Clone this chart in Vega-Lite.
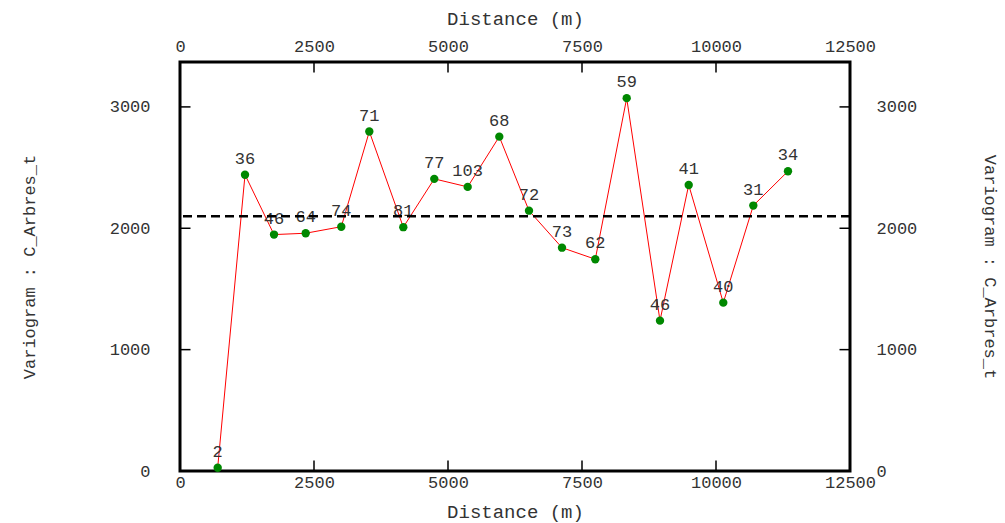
{
  "$schema": "https://vega.github.io/schema/vega-lite/v6.json",
  "autosize": {"type": "none"},
  "padding": {"left": 180, "top": 62, "right": 155, "bottom": 52},
  "width": 670,
  "height": 409,
  "background": "white",
  "config": {
    "view": {"stroke": "black", "strokeWidth": 3},
    "axis": {
      "domain": false,
      "grid": false,
      "ticks": false,
      "zindex": 2,
      "format": "d",
      "labelFont": "Liberation Mono",
      "labelFontSize": 17,
      "labelColor": "#333333",
      "titleFont": "Liberation Mono",
      "titleFontWeight": "normal",
      "titleColor": "#333333",
      "labelOverlap": false,
      "labelFlush": false
    }
  },
  "datasets": {
    "pts": [
      {"d": 703, "g": 27, "n": "2"},
      {"d": 1213, "g": 2441, "n": "36"},
      {"d": 1754, "g": 1948, "n": "46"},
      {"d": 2345, "g": 1959, "n": "64"},
      {"d": 3009, "g": 2013, "n": "74"},
      {"d": 3532, "g": 2797, "n": "71"},
      {"d": 4166, "g": 2009, "n": "81"},
      {"d": 4744, "g": 2407, "n": "77"},
      {"d": 5367, "g": 2341, "n": "103"},
      {"d": 5957, "g": 2755, "n": "68"},
      {"d": 6511, "g": 2145, "n": "72"},
      {"d": 7127, "g": 1840, "n": "73"},
      {"d": 7748, "g": 1745, "n": "62"},
      {"d": 8334, "g": 3072, "n": "59"},
      {"d": 8955, "g": 1239, "n": "46"},
      {"d": 9491, "g": 2357, "n": "41"},
      {"d": 10136, "g": 1387, "n": "40"},
      {"d": 10696, "g": 2187, "n": "31"},
      {"d": 11343, "g": 2470, "n": "34"}
    ],
    "sill": [{"s": 2100}],
    "xticks": [{"v": 2500}, {"v": 5000}, {"v": 7500}, {"v": 10000}],
    "yticks": [{"v": 1000}, {"v": 2000}, {"v": 3000}]
  },
  "resolve": {"axis": {"x": "independent", "y": "independent"}},
  "layer": [
    {
      "data": {"name": "pts"},
      "mark": {"type": "line", "color": "#ff0000", "strokeWidth": 1},
      "encoding": {
        "x": {"field": "d", "type": "quantitative",
              "scale": {"domain": [0, 12500], "nice": false, "zero": false},
              "axis": {"orient": "bottom", "values": [0, 2500, 5000, 7500, 10000, 12500], "title": "Distance (m)", "titleFontSize": 19, "labelPadding": 3, "titlePadding": 12}},
        "y": {"field": "g", "type": "quantitative",
              "scale": {"domain": [0, 3370], "nice": false, "zero": false},
              "axis": {"orient": "left", "values": [0, 1000, 2000, 3000], "title": "Variogram : C_Arbres_t", "titleFontSize": 17, "labelPadding": 30, "titlePadding": 71}}
      }
    },
    {
      "data": {"name": "pts"},
      "mark": {"type": "point", "shape": "circle", "filled": true, "color": "#008800", "size": 70, "opacity": 1},
      "encoding": {
        "x": {"field": "d", "type": "quantitative",
              "axis": {"orient": "top", "values": [0, 2500, 5000, 7500, 10000, 12500], "title": "Distance (m)", "titleFontSize": 19, "labelPadding": 7, "titlePadding": 9}},
        "y": {"field": "g", "type": "quantitative",
              "axis": {"orient": "right", "values": [0, 1000, 2000, 3000], "title": "Variogram : C_Arbres_t", "titleFontSize": 17, "labelPadding": 26, "titlePadding": 64}}
      }
    },
    {
      "data": {"name": "pts"},
      "mark": {"type": "text", "font": "Liberation Mono", "fontSize": 17, "color": "#333333", "dy": -16, "baseline": "middle", "align": "center"},
      "encoding": {
        "x": {"field": "d", "type": "quantitative", "axis": null},
        "y": {"field": "g", "type": "quantitative", "axis": null},
        "text": {"field": "n", "type": "nominal"}
      }
    },
    {
      "data": {"name": "sill"},
      "mark": {"type": "rule", "color": "black", "strokeWidth": 2.5, "strokeDash": [9, 5]},
      "encoding": {
        "y": {"field": "s", "type": "quantitative", "axis": null}
      }
    },
    {
      "data": {"name": "xticks"},
      "mark": {"type": "tick", "orient": "vertical", "size": 11, "thickness": 1.5, "color": "#000000", "opacity": 1, "yOffset": -5},
      "encoding": {
        "x": {"field": "v", "type": "quantitative", "axis": null},
        "y": {"datum": 0, "type": "quantitative", "axis": null}
      }
    },
    {
      "data": {"name": "xticks"},
      "mark": {"type": "tick", "orient": "vertical", "size": 11, "thickness": 1.5, "color": "#000000", "opacity": 1, "yOffset": 5},
      "encoding": {
        "x": {"field": "v", "type": "quantitative", "axis": null},
        "y": {"datum": 3370, "type": "quantitative", "axis": null}
      }
    },
    {
      "data": {"name": "yticks"},
      "mark": {"type": "tick", "orient": "horizontal", "size": 11, "thickness": 1.5, "color": "#000000", "opacity": 1, "xOffset": 5},
      "encoding": {
        "y": {"field": "v", "type": "quantitative", "axis": null},
        "x": {"datum": 0, "type": "quantitative", "axis": null}
      }
    },
    {
      "data": {"name": "yticks"},
      "mark": {"type": "tick", "orient": "horizontal", "size": 11, "thickness": 1.5, "color": "#000000", "opacity": 1, "xOffset": -5},
      "encoding": {
        "y": {"field": "v", "type": "quantitative", "axis": null},
        "x": {"datum": 12500, "type": "quantitative", "axis": null}
      }
    }
  ]
}
